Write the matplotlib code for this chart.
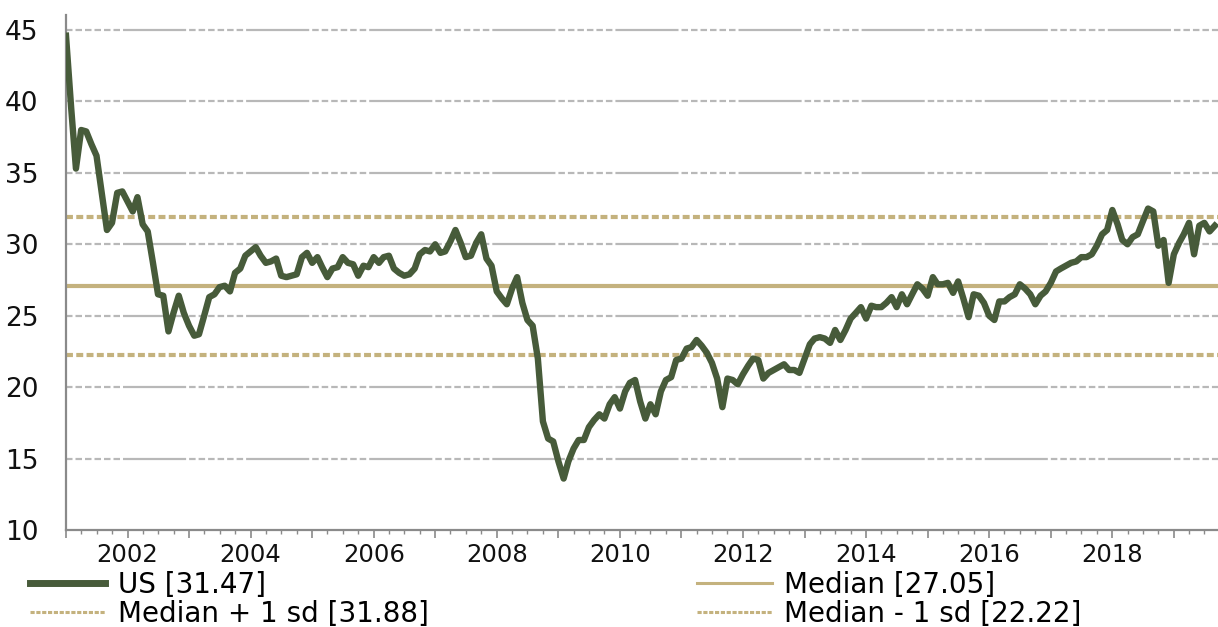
import numpy as np
import pandas as pd
import matplotlib
matplotlib.use("Agg")
import matplotlib.pyplot as plt
import matplotlib.dates as mdates
from matplotlib.lines import Line2D

plt.rcParams['font.family'] = ['DejaVu Sans']
plt.rcParams['lines.scale_dashes'] = False

# monthly values, Jan 2001 .. Sep 2019
us_2001 = [44.6, 39.5, 35.3, 38.0, 37.9, 37.0, 36.2, 33.6, 31.0, 31.5, 33.6, 33.7]
us_2002 = [33.0, 32.3, 33.3, 31.4, 30.9, 28.7, 26.5, 26.4, 23.9, 25.2, 26.4, 25.2]
us_2003 = [24.3, 23.6, 23.7, 25.0, 26.3, 26.5, 27.0, 27.1, 26.7, 28.0, 28.3, 29.2]
us_2004 = [29.5, 29.8, 29.2, 28.7, 28.8, 29.0, 27.8, 27.7, 27.8, 27.9, 29.1, 29.4]
us_2005 = [28.7, 29.1, 28.4, 27.7, 28.3, 28.4, 29.1, 28.7, 28.6, 27.8, 28.5, 28.4]
us_2006 = [29.1, 28.7, 29.1, 29.2, 28.3, 28.0, 27.8, 27.9, 28.3, 29.3, 29.6, 29.5]
us_2007 = [30.0, 29.4, 29.5, 30.2, 31.0, 30.1, 29.1, 29.2, 30.1, 30.7, 29.0, 28.5]
us_2008 = [26.7, 26.2, 25.8, 26.9, 27.7, 25.9, 24.7, 24.3, 22.0, 17.6, 16.4, 16.2]
us_2009 = [14.8, 13.6, 14.8, 15.7, 16.3, 16.3, 17.2, 17.7, 18.1, 17.8, 18.8, 19.3]
us_2010 = [18.5, 19.7, 20.3, 20.5, 19.0, 17.8, 18.8, 18.1, 19.7, 20.5, 20.7, 21.9]
us_2011 = [22.0, 22.7, 22.8, 23.3, 22.9, 22.4, 21.7, 20.6, 18.6, 20.6, 20.5, 20.2]
us_2012 = [20.9, 21.5, 22.0, 21.9, 20.6, 21.0, 21.2, 21.4, 21.6, 21.2, 21.2, 21.0]
us_2013 = [22.0, 23.0, 23.4, 23.5, 23.4, 23.1, 24.0, 23.3, 24.0, 24.8, 25.2, 25.6]
us_2014 = [24.8, 25.7, 25.6, 25.6, 25.9, 26.3, 25.6, 26.5, 25.8, 26.5, 27.2, 26.9]
us_2015 = [26.4, 27.7, 27.2, 27.2, 27.3, 26.6, 27.4, 26.2, 24.9, 26.5, 26.4, 25.9]
us_2016 = [25.0, 24.7, 26.0, 26.0, 26.3, 26.5, 27.2, 26.9, 26.5, 25.8, 26.4, 26.7]
us_2017 = [27.3, 28.1, 28.3, 28.5, 28.7, 28.8, 29.1, 29.1, 29.3, 29.9, 30.7, 31.0]
us_2018 = [32.4, 31.4, 30.3, 30.0, 30.5, 30.7, 31.6, 32.5, 32.3, 29.9, 30.3, 27.3]
us_2019 = [29.3, 30.1, 30.7, 31.5, 29.3, 31.3, 31.5, 30.9, 31.3]

us = (us_2001 + us_2002 + us_2003 + us_2004 + us_2005 + us_2006 + us_2007
      + us_2008 + us_2009 + us_2010 + us_2011 + us_2012 + us_2013 + us_2014
      + us_2015 + us_2016 + us_2017 + us_2018 + us_2019)
dates = pd.date_range('2001-01-01', periods=len(us), freq='MS')

median = 27.05
plus_sd = 31.88
minus_sd = 22.22
labels = ['US [31.47]', 'Median [27.05]', 'Median + 1 sd [31.88]',
          'Median - 1 sd [22.22]']
y_ticks = [10, 15, 20, 25, 30, 35, 40, 45]

green = '#475b3a'
tan = '#c4b27e'
grid_col = '#b8b8b8'
spine_col = '#8a8a8a'

W, H = 1218, 627
fig = plt.figure(figsize=(W / 100, H / 100), dpi=100)
ax = fig.add_axes([66 / W, 1 - 530 / H, (W - 66) / W, (530 - 15) / H])

x0 = pd.Timestamp('2001-01-01')
x1 = pd.Timestamp('2019-09-20')
ax.set_xlim(x0, x1)
ax.set_ylim(10, 46.05)

# gridlines: short dashes for ~0.9 yr, then solid, repeating every 2 years
px_per_year = ax.bbox.width / ((x1 - x0).days / 365.25)
period = 2 * px_per_year
pt = 0.72
seq = [6.5 * pt, 3 * pt] * 6
solid = period - 57 - 3
seq += [solid * pt, 3 * pt]
for yv in y_ticks[1:]:
    ax.axhline(yv, color=grid_col, lw=1.6, linestyle=(0, seq), zorder=1)

ax.axhline(median, color=tan, lw=3.0, zorder=2)
ax.axhline(plus_sd, color=tan, lw=3.0, linestyle=(0, (5.0, 2.4)), zorder=2)
ax.axhline(minus_sd, color=tan, lw=3.0, linestyle=(0, (5.0, 2.4)), zorder=2)

ax.plot(dates, us, color=green, lw=4.6, solid_joinstyle='round', zorder=3)

for s in ['top', 'right']:
    ax.spines[s].set_visible(False)
for s in ['left', 'bottom']:
    ax.spines[s].set_color(spine_col)
    ax.spines[s].set_linewidth(1.6)

ax.set_yticks(y_ticks)
ax.tick_params(axis='y', length=0, pad=20, labelsize=19, colors='#111111')
ax.xaxis.set_major_locator(mdates.YearLocator(1))
ax.xaxis.set_minor_locator(mdates.MonthLocator(bymonth=[4, 7, 10]))
ax.xaxis.set_major_formatter(
    plt.FuncFormatter(lambda v, p: mdates.num2date(v).strftime('%Y')
                      if mdates.num2date(v).year % 2 == 0 else ''))
ax.tick_params(axis='x', which='major', length=6, width=1.2, color=spine_col,
               pad=3, labelsize=17.5, labelcolor='#111111')
ax.tick_params(axis='x', which='minor', length=3, width=1.0, color=spine_col)

h_us = Line2D([], [], color=green, lw=5)
h_med = Line2D([], [], color=tan, lw=2.2)
h_sd = Line2D([], [], color=tan, lw=2.2, linestyle=(0, (3.0, 1.2)))

leg_kw = dict(loc='upper left', frameon=False, fontsize=20, borderpad=0,
              borderaxespad=0, handlelength=2.7, handletextpad=0.45,
              labelspacing=0.02, bbox_transform=fig.transFigure)
fig.legend([h_us, h_sd], [labels[0], labels[2]],
           bbox_to_anchor=(30 / W, 1 - 571 / H), **leg_kw)
fig.legend([h_med, h_sd], [labels[1], labels[3]],
           bbox_to_anchor=(697 / W, 1 - 571 / H), **leg_kw)

fig.savefig('out.png', dpi=100)
